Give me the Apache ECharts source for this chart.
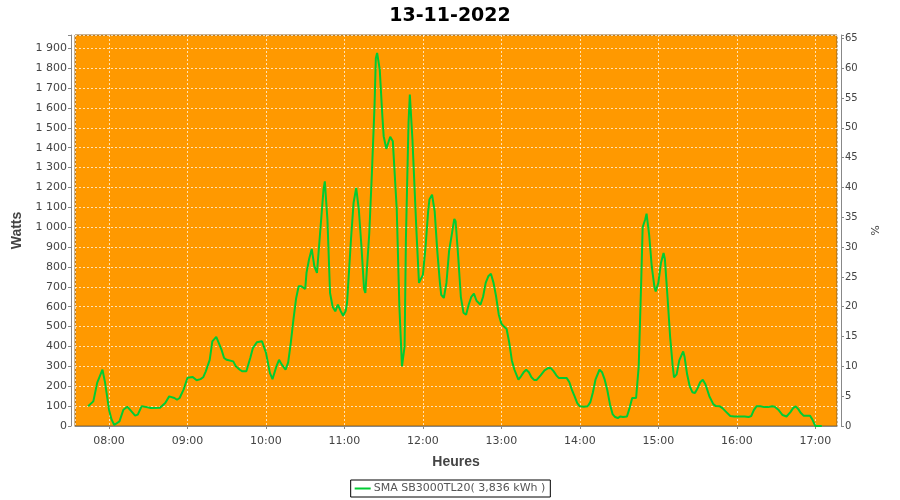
<!DOCTYPE html>
<html>
<head>
<meta charset="utf-8">
<script src="https://cdn.jsdelivr.net/npm/echarts@6/dist/echarts.min.js"></script>
<style>html,body{margin:0;padding:0;background:#fff}#c{width:900px;height:500px}</style>
</head>
<body>
<div id="c"></div>
<script>
const chartTitle = '13-11-2022';
const seriesName = 'SMA SB3000TL20( 3,836 kWh )';
const times = ['07:44','07:48','07:51','07:55','07:57','08:00','08:02','08:04','08:08','08:11','08:14','08:16','08:20','08:22','08:25','08:32','08:39','08:43','08:46','08:50','08:52','08:54','08:57','09:00','09:04','09:07','09:10','09:12','09:14','09:17','09:19','09:22','09:26','09:28','09:30','09:35','09:37','09:40','09:42','09:45','09:48','09:50','09:53','09:57','09:58','10:00','10:03','10:05','10:08','10:10','10:12','10:15','10:17','10:19','10:21','10:23','10:25','10:27','10:30','10:31','10:33','10:35','10:37','10:39','10:41','10:44','10:45','10:47','10:49','10:51','10:53','10:55','10:57','10:59','11:01','11:02','11:05','11:07','11:09','11:11','11:13','11:15','11:16','11:17','11:19','11:21','11:23','11:24','11:25','11:26','11:27','11:29','11:30','11:32','11:35','11:37','11:40','11:42','11:44','11:46','11:47','11:49','11:50','11:51','11:52','11:55','11:57','11:58','12:00','12:02','12:04','12:05','12:07','12:09','12:11','12:13','12:14','12:16','12:18','12:20','12:22','12:24','12:25','12:27','12:29','12:31','12:33','12:35','12:37','12:39','12:41','12:44','12:46','12:48','12:50','12:52','12:54','12:56','12:58','13:00','13:02','13:04','13:06','13:08','13:10','13:13','13:15','13:17','13:19','13:21','13:23','13:25','13:27','13:30','13:33','13:36','13:38','13:40','13:42','13:44','13:47','13:50','13:52','13:54','13:56','13:58','14:00','14:03','14:06','14:08','14:10','14:12','14:15','14:17','14:19','14:21','14:23','14:25','14:27','14:29','14:31','14:33','14:36','14:38','14:40','14:43','14:45','14:47','14:48','14:50','14:51','14:53','14:55','14:57','14:58','15:00','15:02','15:04','15:05','15:07','15:09','15:11','15:12','15:14','15:16','15:19','15:20','15:22','15:24','15:26','15:28','15:30','15:32','15:34','15:36','15:39','15:42','15:44','15:47','15:49','15:52','15:55','15:58','16:02','16:06','16:09','16:11','16:13','16:15','16:18','16:21','16:24','16:27','16:29','16:32','16:35','16:38','16:41','16:43','16:45','16:47','16:49','16:51','16:54','16:56','16:58','17:00','17:05'];
const watts = [99,124,218,283,218,82,32,5,23,82,97,82,52,57,100,91,92,116,149,141,132,141,183,243,247,230,236,245,275,333,426,448,384,342,333,325,300,283,275,275,342,392,421,426,418,369,267,236,300,333,310,283,320,420,535,640,703,703,689,770,840,891,803,770,938,1189,1231,1038,669,600,577,610,580,555,580,619,938,1123,1198,1089,904,690,669,678,971,1273,1609,1850,1877,1869,1793,1559,1458,1394,1455,1432,1089,602,300,401,938,1525,1667,1676,1441,988,720,711,760,900,1080,1140,1164,1080,880,720,660,644,720,880,960,1042,1030,850,650,570,560,610,650,666,630,610,650,720,753,766,720,650,560,515,500,488,420,330,283,233,250,270,283,270,245,232,232,255,280,292,290,275,255,241,241,241,220,180,149,115,99,97,99,120,170,235,283,270,233,180,110,60,45,40,48,45,48,90,141,141,300,750,1000,1040,1068,960,800,700,677,720,820,870,840,650,450,300,245,260,330,375,350,260,200,170,166,190,220,233,210,150,110,100,99,90,70,50,48,48,48,45,50,80,99,99,95,95,99,97,80,55,48,70,90,99,85,65,52,52,52,30,0,0];
const leftTicks = [0,100,200,300,400,500,600,700,800,900,1000,1100,1200,1300,1400,1500,1600,1700,1800,1900];
const rightTicks = [0,5,10,15,20,25,30,35,40,45,50,55,60,65];

const day = '2022-11-13';
const ts = s => new Date(day + 'T' + s + ':00').getTime();
const data = times.map((t, i) => [ts(t), watts[i]]);
const pad = n => (n < 10 ? '0' : '') + n;
const fmtW = v => v >= 1000 ? Math.floor(v / 1000) + ' ' + String(v % 1000).padStart(3, '0') : String(v);

const FONT = 'DejaVu Sans';
const GRID_LINE = {show: true, lineStyle: {color: 'rgba(255,255,255,0.7)', type: [2, 2], width: 1}};
const chart = echarts.init(document.getElementById('c'), null, {renderer: 'canvas'});
chart.setOption({
  animation: false,
  backgroundColor: '#ffffff',
  title: {
    text: chartTitle, left: 'center', top: 2,
    textStyle: {fontFamily: FONT, fontSize: 19, fontWeight: 'bold', color: '#000'}
  },
  legend: {
    bottom: 3, left: 'center',
    data: [{name: seriesName}],
    icon: 'rect', itemWidth: 16, itemHeight: 2, itemGap: 4,
    borderColor: '#000', borderWidth: 1, borderRadius: 0,
    padding: [3, 5, 3, 4],
    textStyle: {fontFamily: FONT, fontSize: 11, color: '#555', padding: [0, 0, 0, -2]}
  },
  grid: {
    left: 75, right: 63, top: 35, bottom: 74,
    show: true, backgroundColor: '#ff9900', borderColor: '#8c6428', borderWidth: 1
  },
  xAxis: {
    type: 'time',
    min: ts('07:34'), max: new Date(day + 'T17:16:36').getTime(),
    minInterval: 3600000, maxInterval: 3600000,
    offset: 4,
    name: 'Heures', nameLocation: 'middle', nameGap: 25,
    nameTextStyle: {fontFamily: 'Liberation Sans', fontSize: 14, fontWeight: 'bold', color: '#444'},
    axisLine: {show: true, lineStyle: {color: '#888', width: 1}},
    axisTick: {show: true, length: 3, lineStyle: {color: '#888'}},
    axisLabel: {
      fontFamily: FONT, fontSize: 11, color: '#444', margin: 6, hideOverlap: false,
      formatter: v => { const d = new Date(v); return (d.getMinutes() === 0 && d.getSeconds() === 0) ? pad(d.getHours()) + ':' + pad(d.getMinutes()) : ''; }
    },
    splitLine: GRID_LINE
  },
  yAxis: [{
    type: 'value', position: 'left',
    min: 0, max: 1967, interval: 100,
    offset: 4,
    name: 'Watts', nameLocation: 'middle', nameGap: 44,
    nameTextStyle: {fontFamily: 'Liberation Sans', fontSize: 14, fontWeight: 'bold', color: '#444'},
    axisLine: {show: true, lineStyle: {color: '#888', width: 1}},
    axisTick: {show: true, length: 3, lineStyle: {color: '#888'}},
    axisLabel: {
      fontFamily: FONT, fontSize: 11, color: '#444', margin: 4,
      formatter: v => leftTicks.indexOf(v) >= 0 ? fmtW(v) : ''
    },
    splitLine: GRID_LINE
  }, {
    type: 'value', position: 'right',
    min: 0, max: 65.57, interval: 5,
    offset: 4,
    name: '%', nameLocation: 'middle', nameGap: 24, nameRotate: -90,
    nameTextStyle: {fontFamily: FONT, fontSize: 11, color: '#444'},
    axisLine: {show: true, lineStyle: {color: '#888', width: 1}},
    axisTick: {show: true, length: 3, lineStyle: {color: '#888'}},
    axisLabel: {
      fontFamily: FONT, fontSize: 10, color: '#444', margin: 4,
      formatter: v => rightTicks.indexOf(v) >= 0 ? String(v) : ''
    },
    splitLine: {show: false}
  }],
  series: [{
    name: seriesName, type: 'line', yAxisIndex: 0,
    data: data, showSymbol: false, symbol: 'none',
    lineStyle: {color: '#00cc33', width: 2},
    itemStyle: {color: '#00cc33'}
  }]
});
</script>
</body>
</html>
